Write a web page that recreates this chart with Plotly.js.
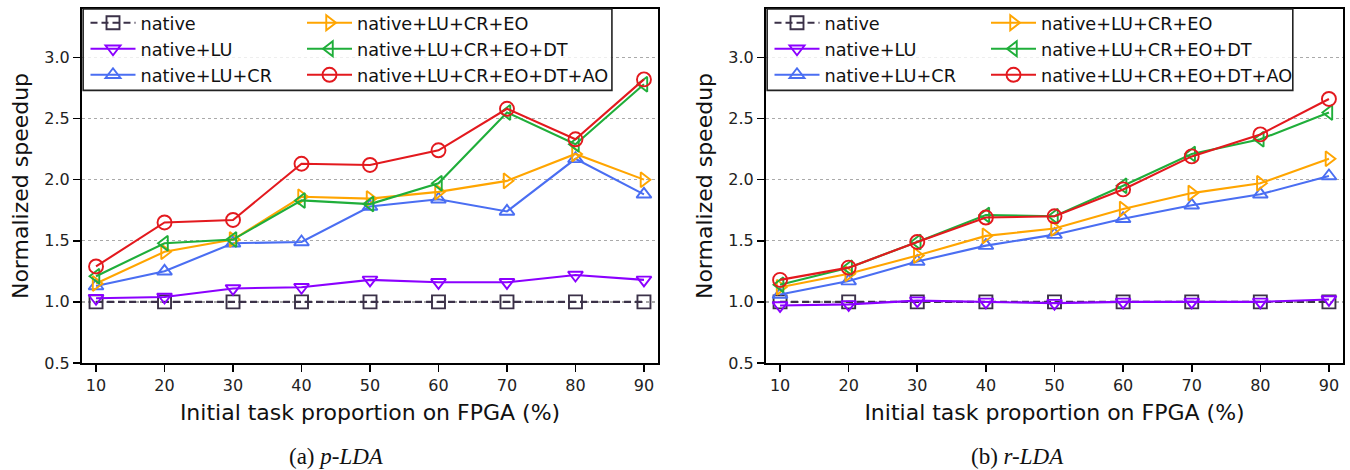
<!DOCTYPE html>
<html>
<head>
<meta charset="utf-8">
<script src="https://cdn.plot.ly/plotly-3.0.1.min.js"></script>
<style>html,body{margin:0;padding:0;background:#fff;}#chart{width:1350px;height:470px;}</style>
</head>
<body>
<div id="chart"></div>
<script>
// ---- data ----
const proportions = [10, 20, 30, 40, 50, 60, 70, 80, 90];
const seriesNames = ["native", "native+LU", "native+LU+CR", "native+LU+CR+EO", "native+LU+CR+EO+DT", "native+LU+CR+EO+DT+AO"];

// (a) p-LDA
const pNative   = [1.00, 1.00, 1.00, 1.00, 1.00, 1.00, 1.00, 1.00, 1.00];
const pLU       = [1.03, 1.04, 1.11, 1.12, 1.18, 1.16, 1.16, 1.22, 1.18];
const pLUCR     = [1.13, 1.25, 1.48, 1.49, 1.78, 1.84, 1.74, 2.17, 1.88];
const pEO       = [1.15, 1.41, 1.51, 1.86, 1.845, 1.90, 1.99, 2.21, 2.00];
const pDT       = [1.21, 1.48, 1.51, 1.83, 1.80, 1.97, 2.55, 2.29, 2.78];
const pAO       = [1.29, 1.65, 1.67, 2.13, 2.12, 2.24, 2.58, 2.33, 2.82];

// (b) r-LDA
const rNative   = [1.00, 1.00, 1.00, 1.00, 1.00, 1.00, 1.00, 1.00, 1.00];
const rLU       = [0.97, 0.98, 1.01, 1.00, 0.99, 1.00, 1.00, 1.00, 1.02];
const rLUCR     = [1.06, 1.17, 1.33, 1.46, 1.55, 1.68, 1.79, 1.88, 2.03];
const rEO       = [1.12, 1.23, 1.38, 1.54, 1.60, 1.76, 1.89, 1.97, 2.17];
const rDT       = [1.14, 1.28, 1.49, 1.71, 1.70, 1.95, 2.21, 2.33, 2.55];
const rAO       = [1.18, 1.28, 1.49, 1.69, 1.70, 1.92, 2.19, 2.37, 2.66];

const yTicks = [0.5, 1.0, 1.5, 2.0, 2.5, 3.0];
const xTitle = "Initial task proportion on FPGA (%)";
const yTitle = "Normalized speedup";
const captions = ["(a) <i>p-LDA</i>", "(b) <i>r-LDA</i>"];

// ---- styles ----
const colors  = ["#3b3148", "#8b00ff", "#4a6ef2", "#ffa500", "#1fae3a", "#e3191e"];
const symbols = ["square-open", "triangle-down-open", "triangle-up-open", "triangle-right-open", "triangle-left-open", "circle-open"];
const msizes  = [13, 13, 13, 13, 13, 14];
const dashes  = ["7px,4px", "solid", "solid", "solid", "solid", "solid"];

function makeTraces(values, xa, ya, legCol1, legCol2, tag) {
  return values.map((v, i) => ({
    type: "scatter", mode: "lines+markers",
    x: proportions, y: v, xaxis: xa, yaxis: ya,
    name: seriesNames[i],
    legend: i < 3 ? legCol1 : legCol2,
    legendgroup: tag + i,
    line: {color: colors[i], width: 2.1, dash: dashes[i]},
    marker: {symbol: symbols[i], size: msizes[i], color: colors[i], line: {width: 1.9, color: colors[i]}},
    hoverinfo: "x+y+name"
  }));
}

const traces = [].concat(
  makeTraces([pNative, pLU, pLUCR, pEO, pDT, pAO], "x", "y", "legend", "legend2", "p"),
  makeTraces([rNative, rLU, rLUCR, rEO, rDT, rAO], "x2", "y2", "legend3", "legend4", "r")
);

const W = 1350;
const tickFont = {family: "DejaVu Sans", size: 16, color: "#222"};
const titleFont = {family: "DejaVu Sans", size: 22, color: "#111"};

function xAxis(domain, anchor) {
  return {
    domain: domain, anchor: anchor, range: [7.95, 92.05],
    tickvals: proportions, ticks: "outside", ticklen: 7, tickwidth: 1.6, tickcolor: "#000",
    showline: true, mirror: true, linecolor: "#000", linewidth: 2,
    showgrid: false, zeroline: false, tickfont: tickFont,
    title: {text: xTitle, font: titleFont, standoff: 10}
  };
}
function yAxis(anchor) {
  return {
    anchor: anchor, domain: [0, 1], range: [0.5, 3.396],
    tickvals: yTicks, ticktext: yTicks.map(v => v.toFixed(1)),
    ticks: "outside", ticklen: 7, tickwidth: 1.6, tickcolor: "#000",
    showline: true, mirror: true, linecolor: "#000", linewidth: 2,
    showgrid: true, gridcolor: "#aaaaaa", gridwidth: 1.3, griddash: "dot",
    zeroline: false, tickfont: tickFont,
    title: {text: yTitle, font: titleFont, standoff: 10}
  };
}

const legendBase = {
  orientation: "v", xanchor: "left", yanchor: "top", y: 1.012,
  bgcolor: "rgba(0,0,0,0)", borderwidth: 0,
  font: {family: "DejaVu Sans", size: 17.7, color: "#111"},
  traceorder: "grouped", tracegroupgap: 0, itemwidth: 45, itemclick: false, itemdoubleclick: false
};

const layout = {
  width: W, height: 470,
  margin: {l: 0, r: 0, t: 9, b: 107},
  paper_bgcolor: "#fff", plot_bgcolor: "#fff",
  showlegend: true,
  xaxis: xAxis([82 / W, 658 / W], "y"),
  yaxis: yAxis("x"),
  xaxis2: xAxis([766 / W, 1343 / W], "y2"),
  yaxis2: yAxis("x2"),
  legend:  Object.assign({}, legendBase, {x: 85.5 / W}),
  legend2: Object.assign({}, legendBase, {x: 302 / W}),
  legend3: Object.assign({}, legendBase, {x: 769.5 / W}),
  legend4: Object.assign({}, legendBase, {x: 986 / W}),
  shapes: [
    {type: "rect", xref: "x domain", yref: "y domain", x0: 0.002, x1: 0.92, y0: 0.770, y1: 1,
     line: {color: "#222", width: 1.6}, fillcolor: "rgba(255,255,255,0.8)", layer: "above"},
    {type: "rect", xref: "x2 domain", yref: "y2 domain", x0: 0.002, x1: 0.913, y0: 0.770, y1: 1,
     line: {color: "#222", width: 1.6}, fillcolor: "rgba(255,255,255,0.8)", layer: "above"}
  ],
  annotations: [
    {text: captions[0], xref: "paper", yref: "paper", x: 336 / W, y: -(457 - 363) / 354, xanchor: "center", yanchor: "middle",
     showarrow: false, font: {family: "Liberation Serif", size: 23, color: "#111"}},
    {text: captions[1], xref: "paper", yref: "paper", x: 1017 / W, y: -(457 - 363) / 354, xanchor: "center", yanchor: "middle",
     showarrow: false, font: {family: "Liberation Serif", size: 23, color: "#111"}}
  ]
};

Plotly.newPlot("chart", traces, layout, {staticPlot: true, displayModeBar: false});
</script>
</body>
</html>
